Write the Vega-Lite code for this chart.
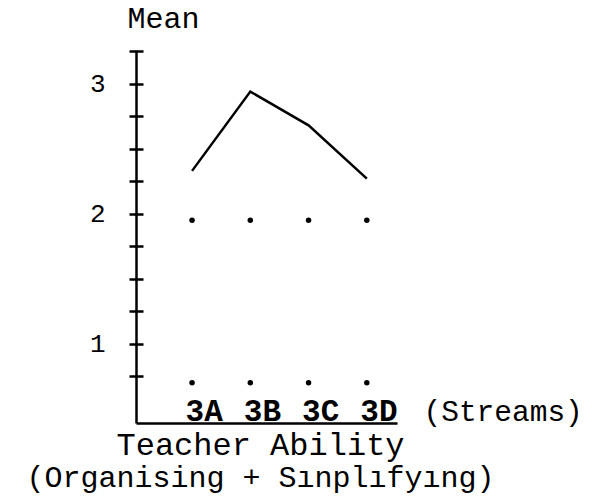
{
  "$schema": "https://vega.github.io/schema/vega-lite/v6.json",
  "width": 261,
  "height": 373,
  "autosize": {"type": "none"},
  "padding": {"left": 136, "top": 50, "right": 195, "bottom": 73},
  "background": "white",
  "config": {"view": {"stroke": null}, "font": "Liberation Mono"},
  "datasets": {
    "means": [
      {"stream": "3A", "mean": 2.33},
      {"stream": "3B", "mean": 2.94},
      {"stream": "3C", "mean": 2.68},
      {"stream": "3D", "mean": 2.27}
    ],
    "dots": [
      {"stream": "3A", "value": 1.95},
      {"stream": "3B", "value": 1.95},
      {"stream": "3C", "value": 1.95},
      {"stream": "3D", "value": 1.95},
      {"stream": "3A", "value": 0.7},
      {"stream": "3B", "value": 0.7},
      {"stream": "3C", "value": 0.7},
      {"stream": "3D", "value": 0.7}
    ]
  },
  "title": {
    "text": "Teacher Ability",
    "subtitle": "(Organising + Sınplıfyıng)",
    "orient": "bottom",
    "anchor": "middle",
    "frame": "group",
    "offset": 4,
    "dx": -6,
    "font": "Liberation Mono",
    "fontSize": 32,
    "fontWeight": "normal",
    "color": "black",
    "subtitleFont": "Liberation Mono",
    "subtitleFontSize": 30,
    "subtitleColor": "black",
    "subtitlePadding": 1
  },
  "layer": [
    {
      "data": {"name": "means"},
      "mark": {"type": "line", "color": "black", "strokeWidth": 2.5},
      "encoding": {
        "x": {
          "field": "stream",
          "type": "ordinal",
          "sort": ["3A", "3B", "3C", "3D"],
          "scale": {"type": "point", "padding": 0.74, "align": 0.65},
          "axis": {
            "orient": "bottom",
            "domain": true,
            "domainColor": "black",
            "domainWidth": 2.5,
            "ticks": false,
            "grid": false,
            "labelAngle": 0,
            "labelPadding": -3,
            "labelBaseline": "alphabetic",
            "labelAlign": "left",
            "labelOffset": -7,
            "labelOverlap": false,
            "labelFont": "Liberation Mono",
            "labelFontSize": 31,
            "labelFontWeight": "bold",
            "labelColor": "black",
            "title": "(Streams)",
            "titleX": 287,
            "titleY": -3,
            "titleAlign": "left",
            "titleBaseline": "alphabetic",
            "titleFont": "Liberation Mono",
            "titleFontSize": 29.5,
            "titleFontWeight": "normal",
            "titleColor": "black"
          }
        },
        "y": {
          "field": "mean",
          "type": "quantitative",
          "scale": {"domain": [0.39, 3.26], "nice": false, "zero": false},
          "axis": {
            "orient": "left",
            "domain": true,
            "domainColor": "black",
            "domainWidth": 2.5,
            "ticks": true,
            "tickSize": 7,
            "tickWidth": 2.5,
            "tickColor": "black",
            "tickCount": 40,
            "grid": true,
            "gridColor": "black",
            "gridWidth": 2.5,
            "gridOpacity": 1,
            "gridDash": [7, 3000],
            "values": [0.75, 1, 1.25, 1.5, 1.75, 2, 2.25, 2.5, 2.75, 3, 3.25],
            "labelOverlap": false,
            "labelExpr": "abs(datum.value - round(datum.value)) < 0.01 ? format(datum.value, 'd') : ''",
            "labelPadding": 24,
            "labelFont": "Liberation Mono",
            "labelFontSize": 26,
            "labelColor": "black",
            "title": "Mean",
            "titleAngle": 0,
            "titleX": -9,
            "titleY": -23,
            "titleAlign": "left",
            "titleBaseline": "alphabetic",
            "titleFont": "Liberation Mono",
            "titleFontSize": 30,
            "titleFontWeight": "normal",
            "titleColor": "black"
          }
        }
      }
    },
    {
      "data": {"name": "dots"},
      "mark": {"type": "circle", "color": "black", "size": 30, "opacity": 1},
      "encoding": {
        "x": {"field": "stream", "type": "ordinal", "sort": ["3A", "3B", "3C", "3D"]},
        "y": {"field": "value", "type": "quantitative"}
      }
    }
  ]
}
